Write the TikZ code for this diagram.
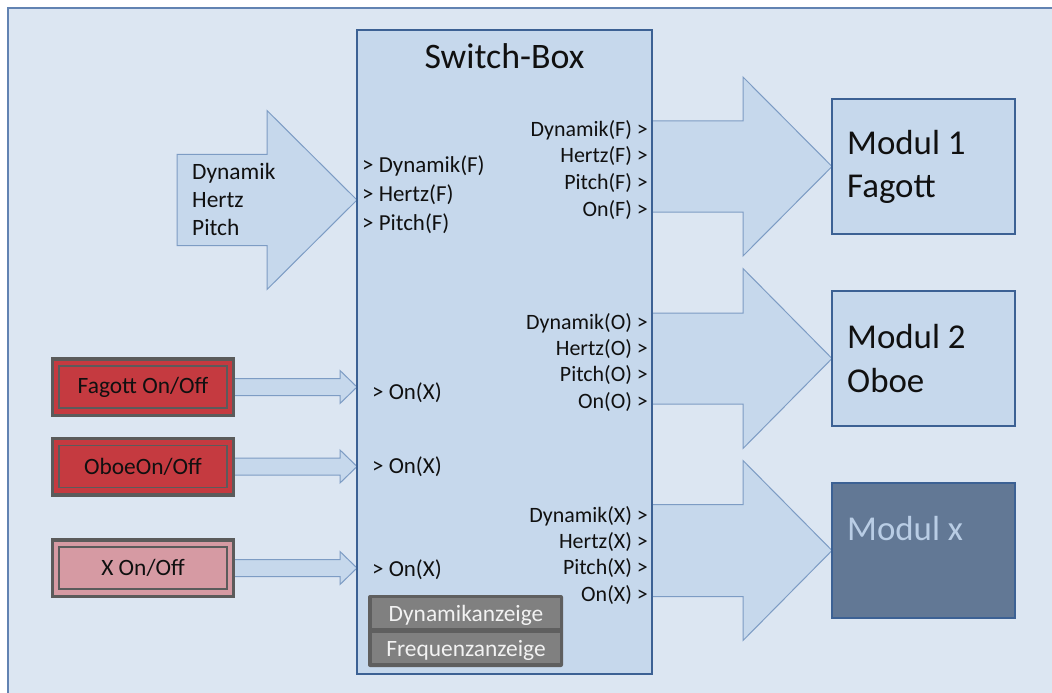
\documentclass[tikz,border=0pt]{standalone}
\usepackage{fontspec}
\setmainfont{Carlito}
\usetikzlibrary{calc}
\pgfdeclarelayer{bg}
\pgfsetlayers{bg,main}

\definecolor{bgcol}{HTML}{DCE6F2}
\definecolor{framecol}{HTML}{6283B2}
\definecolor{boxfill}{HTML}{C6D8EC}
\definecolor{boxdraw}{HTML}{3C6194}
\definecolor{arrdraw}{HTML}{7D9CC4}
\definecolor{modxfill}{HTML}{627895}
\definecolor{modxtext}{HTML}{B9CDE5}
\definecolor{btnred}{HTML}{C53A40}
\definecolor{btnpink}{HTML}{D69AA3}
\definecolor{btngray}{HTML}{5B5B5B}
\definecolor{dynouter}{HTML}{5F5F5F}
\definecolor{dyncell}{HTML}{808080}
\definecolor{dyntext}{HTML}{F2F2F2}
\definecolor{txt}{HTML}{101010}

% block arrow: tail x from #1, tip at #2, shaft half-height #3, head half-height #4, head length #5
\newcommand{\blockarrow}[5]{%
  \draw[blockarr] ($(#1 |- #2)+(0,-#3)$) -- ($(#2)+(-#5,-#3)$) -- ($(#2)+(-#5,-#4)$)
    -- (#2) -- ($(#2)+(-#5,#4)$) -- ($(#2)+(-#5,#3)$) -- ($(#1 |- #2)+(0,#3)$) -- cycle;}

\tikzset{
  blockarr/.style={draw=arrdraw, line width=1bp, fill=boxfill, line join=miter},
  switchbox/.style={draw=boxdraw, line width=2bp, fill=boxfill, outer sep=0pt,
    minimum width=295bp, minimum height=644bp, inner sep=0pt},
  modbox/.style={draw=boxdraw, line width=2bp, fill=#1, outer sep=0pt,
    minimum width=183bp, minimum height=135bp, inner sep=0pt},
  modtxt/.style={text=#1, inner sep=0pt, anchor=base west, font=\fontsize{35}{40}\selectfont},
  btn/.style={draw=btngray, line width=3.5bp, fill=#1, outer sep=0pt,
    minimum width=180.5bp, minimum height=56.5bp, inner sep=0pt,
    font=\fontsize{23.5}{28}\selectfont, text=txt},
  bevel/.style={draw=btngray, line width=1.3bp},
  inlbl/.style={inner sep=0pt, anchor=base west, text=txt, font=\fontsize{23}{28}\selectfont},
  outlbl/.style={inner sep=0pt, anchor=base east, text=txt, font=\fontsize{22}{26}\selectfont},
  dyncellbox/.style={fill=dyncell, minimum width=188bp, minimum height=30bp, inner sep=0pt},
  dyntxt/.style={inner sep=0pt, anchor=base, text=dyntext, font=\fontsize{23.5}{28}\selectfont},
}

\begin{document}
\begin{tikzpicture}[x=1bp,y=-1bp]
\useasboundingbox (0,0) rectangle (1052,693);
\clip (0,0) rectangle (1052,693);

% switch box and target modules
\node[switchbox] (sw) at (504.5,352) {};
\node[modbox=boxfill] (m1) at (923.5,166.5) {};
\node[modbox=boxfill] (m2) at (923.5,358.5) {};
\node[modbox=modxfill] (mx) at (923.5,550.5) {};

% on/off buttons
\node[btn=btnred] (bf) at (143,387) {Fagott On/Off};
\node[btn=btnred] (bo) at (143,466.5) {OboeOn/Off};
\node[btn=btnpink] (bx) at (143,568) {X On/Off};
\foreach \b in {bf,bo,bx}
  \draw[bevel] ($(\b.center)+(-84,-21)$) rectangle ($(\b.center)+(84,21)$);

% arrow anchor points
\coordinate (inTail) at (177,200);
\coordinate (inTip) at (sw.west |- inTail);
\coordinate (fTip) at (sw.west |- bf);
\coordinate (oTip) at (sw.west |- bo);
\coordinate (xTip) at (sw.west |- bx);

\begin{pgfonlayer}{bg}
  \draw[framecol, line width=2bp, fill=bgcol] (7.5,8) rectangle (1070,710);
  \blockarrow{inTail}{inTip}{45.5}{89.5}{90}
  \blockarrow{bf.east}{fTip}{8.5}{16.5}{17}
  \blockarrow{bo.east}{oTip}{8.5}{16.5}{17}
  \blockarrow{bx.east}{xTip}{8.5}{16.5}{17}
  \blockarrow{sw.east}{m1.west}{45.5}{89.5}{89}
  \blockarrow{sw.east}{m2.west}{45.5}{90}{89}
  \blockarrow{sw.east}{mx.west}{46}{90}{89}
\end{pgfonlayer}

% title
\node[inner sep=0pt, anchor=base, text=txt, font=\fontsize{36}{40}\selectfont] (title) at (504.5,69) {Switch-Box};

% input arrow text
\node[inlbl, font=\fontsize{23.5}{28}\selectfont] (aD) at (192,180) {Dynamik};
\node[inlbl, font=\fontsize{23.5}{28}\selectfont] (aH) at (192,208) {Hertz};
\node[inlbl, font=\fontsize{23.5}{28}\selectfont] (aP) at (192,235) {Pitch};

% switch box inputs
\node[inlbl] (iD) at (362,173) {> Dynamik(F)};
\node[inlbl] (iH) at (362,201.5) {> Hertz(F)};
\node[inlbl] (iP) at (362,230) {> Pitch(F)};
\node[inlbl] (iF) at (372,399) {> On(X)};
\node[inlbl] (iO) at (372,473) {> On(X)};
\node[inlbl] (iX) at (372,576) {> On(X)};

% switch box outputs
\node[outlbl] (fD) at (648,137) {Dynamik(F) >};
\node[outlbl] (fH) at (648,163) {Hertz(F) >};
\node[outlbl] (fP) at (648,189.5) {Pitch(F) >};
\node[outlbl] (fO) at (648,216) {On(F) >};
\node[outlbl] (oD) at (648,329) {Dynamik(O) >};
\node[outlbl] (oH) at (648,355) {Hertz(O) >};
\node[outlbl] (oP) at (648,381.5) {Pitch(O) >};
\node[outlbl] (oO) at (648,408) {On(O) >};
\node[outlbl] (xD) at (648,522) {Dynamik(X) >};
\node[outlbl] (xH) at (648,548) {Hertz(X) >};
\node[outlbl] (xP) at (648,574.5) {Pitch(X) >};
\node[outlbl] (xO) at (648,601) {On(X) >};

% display panel
\node[fill=dynouter, rounded corners=2bp, minimum width=195bp, minimum height=72bp, inner sep=0pt] (dyn) at (465.5,631) {};
\node[dyncellbox] (dynA) at (466,613) {};
\node[dyncellbox] (dynF) at (466,648) {};
\node[dyntxt] (dynAt) at (466,621) {Dynamikanzeige};
\node[dyntxt] (dynFt) at (466,656) {Frequenzanzeige};

% module labels
\node[modtxt=txt] (m1a) at (847,155) {Modul 1};
\node[modtxt=txt] (m1b) at (847,198) {Fagott};
\node[modtxt=txt] (m2a) at (847,348) {Modul 2};
\node[modtxt=txt] (m2b) at (847,392) {Oboe};
\node[modtxt=modxtext] (mxa) at (847,540) {Modul x};
\end{tikzpicture}
\end{document}
